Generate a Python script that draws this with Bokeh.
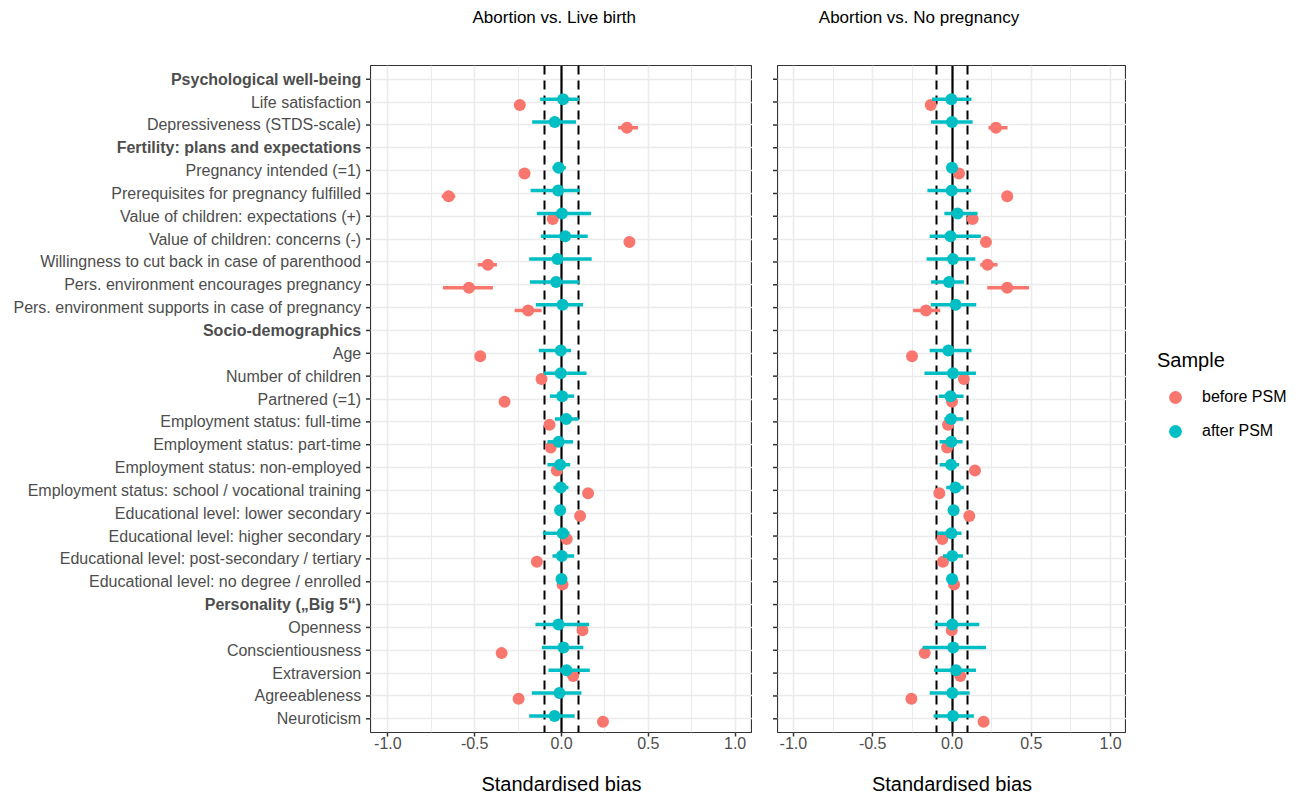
from bokeh.plotting import figure
from bokeh.models import (FactorRange, Range1d, FixedTicker, Legend, LegendItem,
                          ColumnDataSource)
from bokeh.layouts import row, column
from bokeh.transform import dodge
from bokeh.core.properties import value
from bokeh.embed import file_html
from bokeh.resources import INLINE

FONT = "Liberation Sans"
RED = "#F8766D"
TEAL = "#00BFC4"
GRID = "#EBEBEB"
TXT = "#4D4D4D"

# ---------------- data ----------------
rows = [
    "Psychological well-being",
    "Life satisfaction",
    "Depressiveness (STDS-scale)",
    "Fertility: plans and expectations",
    "Pregnancy intended (=1)",
    "Prerequisites for pregnancy fulfilled",
    "Value of children: expectations (+)",
    "Value of children: concerns (-)",
    "Willingness to cut back in case of parenthood",
    "Pers. environment encourages pregnancy",
    "Pers. environment supports in case of pregnancy",
    "Socio-demographics",
    "Age",
    "Number of children",
    "Partnered (=1)",
    "Employment status: full-time",
    "Employment status: part-time",
    "Employment status: non-employed",
    "Employment status: school / vocational training",
    "Educational level: lower secondary",
    "Educational level: higher secondary",
    "Educational level: post-secondary / tertiary",
    "Educational level: no degree / enrolled",
    "Personality (\u201eBig 5\u201c)",
    "Openness",
    "Conscientiousness",
    "Extraversion",
    "Agreeableness",
    "Neuroticism",
]
headers = ["Psychological well-being", "Fertility: plans and expectations",
           "Socio-demographics", "Personality (\u201eBig 5\u201c)"]
items = [r for r in rows if r not in headers]

panel_titles = ["Abortion vs. Live birth", "Abortion vs. No pregnancy"]
series_names = ["before PSM", "after PSM"]
legend_title = "Sample"
x_title = "Standardised bias"

# Abortion vs. Live birth
lb_before_est = [-0.24, 0.377, -0.213, -0.65, -0.05, 0.391, -0.424, -0.533, -0.192,
                 -0.468, -0.115, -0.328, -0.069, -0.062, -0.027, 0.153, 0.107, 0.030,
                 -0.142, 0.006, 0.121, -0.345, 0.067, -0.247, 0.239]
lb_before_lo = [-0.26, 0.326, -0.23, -0.69, -0.07, 0.37, -0.483, -0.683, -0.27,
                -0.49, -0.135, -0.345, -0.085, -0.08, -0.045, 0.135, 0.09, 0.012,
                -0.16, -0.012, 0.10, -0.365, 0.05, -0.265, 0.22]
lb_before_hi = [-0.22, 0.441, -0.195, -0.612, -0.03, 0.41, -0.372, -0.395, -0.115,
                -0.45, -0.095, -0.31, -0.05, -0.045, -0.01, 0.17, 0.125, 0.048,
                -0.125, 0.024, 0.14, -0.325, 0.085, -0.23, 0.258]
lb_after_est = [0.009, -0.039, -0.016, -0.019, 0.002, 0.021, -0.023, -0.031, 0.006,
                -0.004, -0.004, 0.004, 0.027, -0.016, -0.008, -0.004, -0.008, 0.007,
                0.002, 0.0, -0.017, 0.011, 0.029, -0.012, -0.040]
lb_after_lo = [-0.123, -0.169, -0.052, -0.178, -0.142, -0.119, -0.186, -0.182, -0.148,
               -0.131, -0.102, -0.067, -0.038, -0.081, -0.081, -0.046, -0.03, -0.107,
               -0.052, -0.02, -0.150, -0.113, -0.075, -0.171, -0.186]
lb_after_hi = [0.101, 0.084, 0.025, 0.105, 0.170, 0.151, 0.174, 0.103, 0.124,
               0.055, 0.144, 0.073, 0.098, 0.067, 0.050, 0.040, 0.02, 0.046,
               0.073, 0.02, 0.159, 0.126, 0.163, 0.115, 0.076]

# Abortion vs. No pregnancy
np_before_est = [-0.134, 0.277, 0.044, 0.348, 0.130, 0.214, 0.224, 0.348, -0.164,
                 -0.252, 0.075, 0.0, -0.025, -0.031, 0.145, -0.080, 0.109, -0.061,
                 -0.057, 0.013, -0.002, -0.172, 0.052, -0.256, 0.199]
np_before_lo = [-0.154, 0.230, 0.024, 0.328, 0.11, 0.194, 0.178, 0.222, -0.245,
                -0.272, 0.055, -0.02, -0.045, -0.051, 0.125, -0.10, 0.089, -0.081,
                -0.077, -0.007, -0.022, -0.192, 0.032, -0.276, 0.179]
np_before_hi = [-0.114, 0.350, 0.064, 0.368, 0.15, 0.234, 0.287, 0.486, -0.074,
                -0.232, 0.095, 0.02, -0.005, -0.011, 0.165, -0.06, 0.129, -0.041,
                -0.037, 0.033, 0.018, -0.152, 0.072, -0.236, 0.219]
np_after_est = [-0.004, 0.0, 0.0, -0.002, 0.035, -0.009, 0.006, -0.019, 0.023,
                -0.023, 0.006, -0.009, -0.006, -0.004, -0.006, 0.021, 0.010, -0.004,
                0.002, 0.0, 0.002, 0.008, 0.025, 0.002, 0.006]
np_after_lo = [-0.126, -0.132, -0.02, -0.155, -0.048, -0.141, -0.160, -0.132, -0.134,
               -0.141, -0.174, -0.082, -0.048, -0.078, -0.078, -0.036, -0.01, -0.094,
               -0.057, -0.02, -0.109, -0.185, -0.113, -0.141, -0.116]
np_after_hi = [0.123, 0.130, 0.02, 0.121, 0.161, 0.182, 0.147, 0.075, 0.153,
               0.123, 0.151, 0.073, 0.071, 0.067, 0.044, 0.075, 0.03, 0.060,
               0.069, 0.02, 0.172, 0.214, 0.151, 0.111, 0.138]

x_ticks = [-1.0, -0.5, 0.0, 0.5, 1.0]
x_tick_labels = ["-1.0", "-0.5", "0.0", "0.5", "1.0"]
x_minor = [-0.75, -0.25, 0.25, 0.75]
ref_line = [0.0]
thresholds = [-0.1, 0.1]

# ---------------- layout constants (pixels) ----------------
TOTAL_W = 1298
TOP_H = 65
FRAME_H = 667
LAB_W = 370
LEFT_W = 382
GUT_W = 25
RIGHT_W = 349
LEG_W = TOTAL_W - (LAB_W + LEFT_W + GUT_W + RIGHT_W)

yr = FactorRange(factors=rows[::-1], range_padding=0.1, range_padding_units="absolute")


def bare(fw, fh, xr, y_range):
    f = figure(frame_width=fw, frame_height=fh, x_range=xr, y_range=y_range,
               x_axis_location=None, y_axis_location=None,
               output_backend="svg", toolbar_location=None,
               min_border_left=0, min_border_right=0, min_border_top=0,
               min_border_bottom=0, outline_line_color=None)
    for g in f.grid:
        g.visible = False
    return f


# title strip
top = bare(TOTAL_W, TOP_H, Range1d(0, TOTAL_W), Range1d(TOP_H, 0))
top.text(x=[472, 818.3], y=[17, 17], text=panel_titles, text_align="left",
         text_baseline="middle", text_font=value(FONT), text_font_size="17px",
         text_color="black")

# label column
lab = bare(LAB_W, FRAME_H, Range1d(0, LAB_W), yr)
normal = [r for r in rows if r not in headers]
lab.text(x=LAB_W - 9.3, y=normal, text=normal, text_align="right",
         text_baseline="middle", text_font=value(FONT), text_font_size="16px",
         text_color=TXT)
lab.text(x=LAB_W - 9.3, y=headers, text=headers, text_align="right",
         text_baseline="middle", text_font=value(FONT), text_font_size="16px",
         text_font_style="bold", text_color=TXT)
lab.segment(x0=LAB_W - 4.5, x1=LAB_W, y0=rows, y1=rows, line_color="#333333",
            line_width=1.5)

# gutter with ticks for the right panel
gut = bare(GUT_W, FRAME_H, Range1d(0, GUT_W), yr)
gut.segment(x0=GUT_W - 4.5, x1=GUT_W, y0=rows, y1=rows, line_color="#333333",
            line_width=1.5)


def panel(fw, b_est, b_lo, b_hi, a_est, a_lo, a_hi):
    p = figure(frame_width=fw, frame_height=FRAME_H, x_range=Range1d(-1.1, 1.1),
               y_range=yr, y_axis_location=None, output_backend="svg",
               toolbar_location=None, min_border_left=0, min_border_right=0,
               min_border_top=0, min_border_bottom=0)
    p.outline_line_color = "#333333"
    p.outline_line_width = 1.2
    p.background_fill_color = "white"

    ax = p.xaxis[0]
    ax.ticker = FixedTicker(ticks=x_ticks, minor_ticks=x_minor)
    ax.major_label_overrides = dict(zip(x_ticks, x_tick_labels))
    ax.axis_label = x_title
    ax.axis_label_text_font = FONT
    ax.axis_label_text_font_size = "20px"
    ax.axis_label_text_font_style = "normal"
    ax.axis_label_text_color = "black"
    ax.axis_label_standoff = 21
    ax.major_label_text_font = FONT
    ax.major_label_text_font_size = "16px"
    ax.major_label_text_color = TXT
    ax.major_label_standoff = 0
    ax.major_tick_out = 4
    ax.major_tick_in = 0
    ax.major_tick_line_color = "#333333"
    ax.major_tick_line_width = 1.5
    ax.minor_tick_line_color = None
    ax.axis_line_color = None

    p.xgrid.grid_line_color = GRID
    p.xgrid.grid_line_width = 1.6
    p.xgrid.minor_grid_line_color = GRID
    p.xgrid.minor_grid_line_width = 1.0
    p.ygrid.grid_line_color = GRID
    p.ygrid.grid_line_width = 1.6

    p.vspan(x=ref_line, line_color="black", line_width=2.2)
    p.vspan(x=thresholds, line_color="black", line_width=2, line_dash="9 6")

    sb = ColumnDataSource(dict(item=items, est=b_est, lo=b_lo, hi=b_hi))
    sa = ColumnDataSource(dict(item=items, est=a_est, lo=a_lo, hi=a_hi))
    yb = dodge("item", -0.125, range=yr)
    ya = dodge("item", 0.125, range=yr)
    p.segment(x0="lo", x1="hi", y0=yb, y1=yb, source=sb, line_color=RED,
              line_width=3.5)
    p.scatter(x="est", y=yb, source=sb, size=12, fill_color=RED, line_color=None)
    p.segment(x0="lo", x1="hi", y0=ya, y1=ya, source=sa, line_color=TEAL,
              line_width=3.5)
    p.scatter(x="est", y=ya, source=sa, size=12, fill_color=TEAL, line_color=None)
    return p


left = panel(LEFT_W, lb_before_est, lb_before_lo, lb_before_hi,
             lb_after_est, lb_after_lo, lb_after_hi)
right = panel(RIGHT_W, np_before_est, np_before_lo, np_before_hi,
              np_after_est, np_after_lo, np_after_hi)

# legend column: key renderers sit outside the visible range, only the legend shows
leg_xr = Range1d(0, 1)
leg_yr = Range1d(0, 1)
leg = bare(LEG_W, FRAME_H, leg_xr, leg_yr)
off_x = [leg_xr.start - 1]
off_y = [leg_yr.start - 1]
r_before = leg.scatter(x=off_x, y=off_y, size=12, fill_color=RED, line_color=None)
r_after = leg.scatter(x=off_x, y=off_y, size=12, fill_color=TEAL, line_color=None)
legend = Legend(items=[LegendItem(label=series_names[0], renderers=[r_before]),
                       LegendItem(label=series_names[1], renderers=[r_after])],
                title=legend_title, location=(31, 285), orientation="vertical",
                padding=0, margin=0, spacing=2, glyph_width=36, glyph_height=32,
                label_height=32, label_standoff=9, title_standoff=9,
                border_line_color=None, background_fill_alpha=0)
legend.title_text_font = FONT
legend.title_text_font_size = "20px"
legend.title_text_font_style = "normal"
legend.title_text_color = "black"
legend.label_text_font = FONT
legend.label_text_font_size = "16px"
legend.label_text_color = "black"
leg.add_layout(legend, "center")

layout = column(top, row(lab, left, gut, right, leg, spacing=0), spacing=0)

with open("out.html", "w") as f:
    f.write(file_html(layout, INLINE))
